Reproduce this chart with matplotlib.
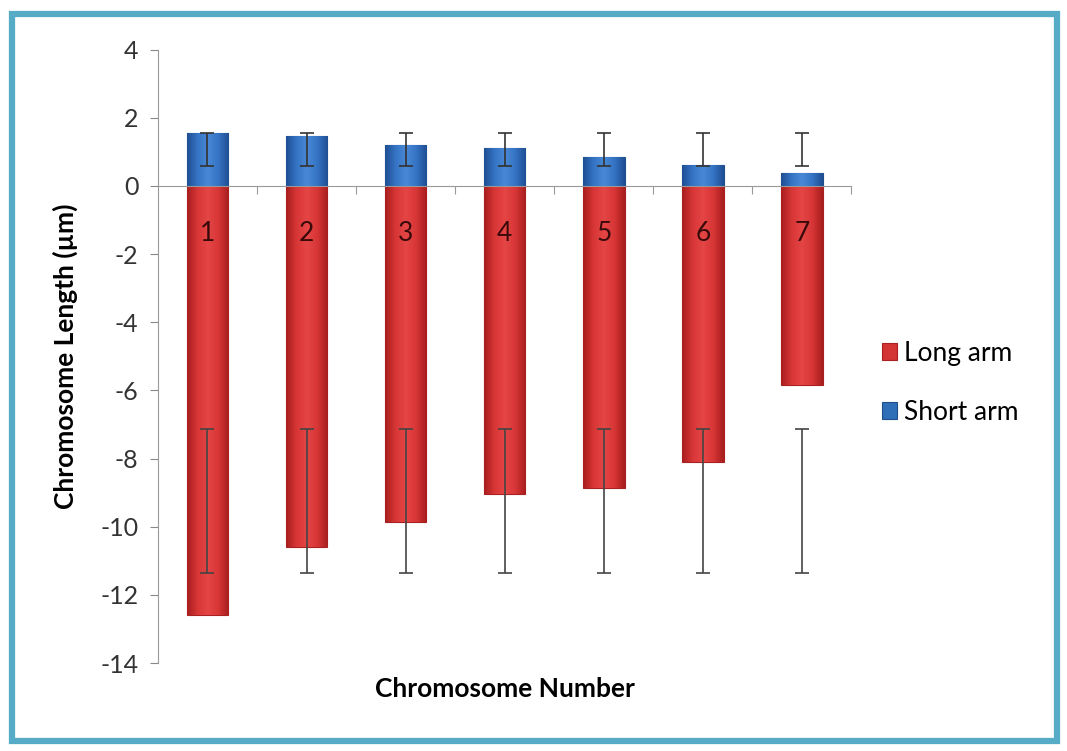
import numpy as np
import matplotlib.pyplot as plt
from matplotlib.patches import Rectangle
from matplotlib.ticker import FixedLocator
from matplotlib.colors import LinearSegmentedColormap

# data
chromosomes = ['1', '2', '3', '4', '5', '6', '7']
short_arm = [1.56, 1.45, 1.2, 1.1, 0.85, 0.62, 0.38]
long_arm = [-12.6, -10.6, -9.85, -9.05, -8.85, -8.1, -5.85]
short_err_center = [1.07] * 7
short_err = [0.48] * 7
long_err_center = [-9.25] * 7
long_err = [2.12] * 7
y_ticks = [4, 2, 0, -2, -4, -6, -8, -10, -12, -14]

plt.rcParams['font.family'] = ['Lato', 'DejaVu Sans']

fig = plt.figure(figsize=(10.67, 7.51), dpi=100, facecolor='white')
# light blue frame round the chart
fig.patches.append(Rectangle((0.011, 0.013), 0.98, 0.968, transform=fig.transFigure,
                             fill=False, edgecolor='#56abc6', linewidth=4.5))

ax = fig.add_axes([0.148, 0.117, 0.650, 0.817])
x = range(len(chromosomes))

red = '#d33434'
blue = '#2f6fb8'
long_bars = ax.bar(x, long_arm, width=0.42, color=red, edgecolor='#a82020', linewidth=0.8,
                   label='Long arm', zorder=2)
short_bars = ax.bar(x, short_arm, width=0.42, color=blue, edgecolor='#1f4f8a', linewidth=0.8,
                    label='Short arm', zorder=2)

# shaded look: dark edges, lighter middle
red_cmap = LinearSegmentedColormap.from_list('r', ['#a81e1e', '#d83636', '#e44545', '#d83636', '#a81e1e'])
blue_cmap = LinearSegmentedColormap.from_list('b', ['#1f4f94', '#3574c4', '#4a88d6', '#3574c4', '#1f4f94'])
grad = np.linspace(0, 1, 64).reshape(1, -1)
for bars, cmap in ((long_bars, red_cmap), (short_bars, blue_cmap)):
    for b in bars:
        x0, y0 = b.get_x(), b.get_y()
        w, h = b.get_width(), b.get_height()
        im = ax.imshow(grad, cmap=cmap, aspect='auto', zorder=2.1,
                       extent=(x0, x0 + w, min(y0, y0 + h), max(y0, y0 + h)))
        im.set_clip_path(b)

ax.errorbar(x, short_err_center, yerr=short_err, fmt='none', ecolor='#333333',
            elinewidth=1.2, capsize=5, capthick=1.2, zorder=3)
ax.errorbar(x, long_err_center, yerr=long_err, fmt='none', ecolor='#444444',
            elinewidth=1.2, capsize=5, capthick=1.2, zorder=3)

for i, c in enumerate(chromosomes):
    ax.text(i, -1.4, c, ha='center', va='center', fontsize=19, color='#3a0a0a', zorder=4)

ax.set_xlim(-0.5, len(chromosomes) - 0.5)
ax.set_ylim(-14, 4)
ax.set_yticks(y_ticks)
ax.set_yticklabels([str(t) for t in y_ticks], fontsize=18, color='#333333')
ax.tick_params(axis='y', direction='out', length=6, color='#888888', pad=8)

# category axis drawn at zero, ticks between categories
ax.spines['bottom'].set_position(('data', 0))
ax.spines['bottom'].set_color('#999999')
ax.spines['top'].set_visible(False)
ax.spines['right'].set_visible(False)
ax.spines['left'].set_color('#999999')
ax.xaxis.set_major_locator(FixedLocator([i + 0.5 for i in range(len(chromosomes))]))
ax.set_xticklabels([])
ax.tick_params(axis='x', direction='out', length=6, color='#999999')

ax.set_ylabel('Chromosome Length (µm)', fontsize=19, fontweight='bold', labelpad=16)
fig.text(0.473, 0.082, 'Chromosome Number', ha='center', va='center',
         fontsize=19, fontweight='bold')

handles, labels = ax.get_legend_handles_labels()
fig.legend(handles, labels, loc='center left', bbox_to_anchor=(0.804, 0.49),
           frameon=False, fontsize=19, handlelength=0.6, handleheight=0.6,
           handletextpad=0.25, labelspacing=1.3)

fig.savefig('out.png', dpi=100)
